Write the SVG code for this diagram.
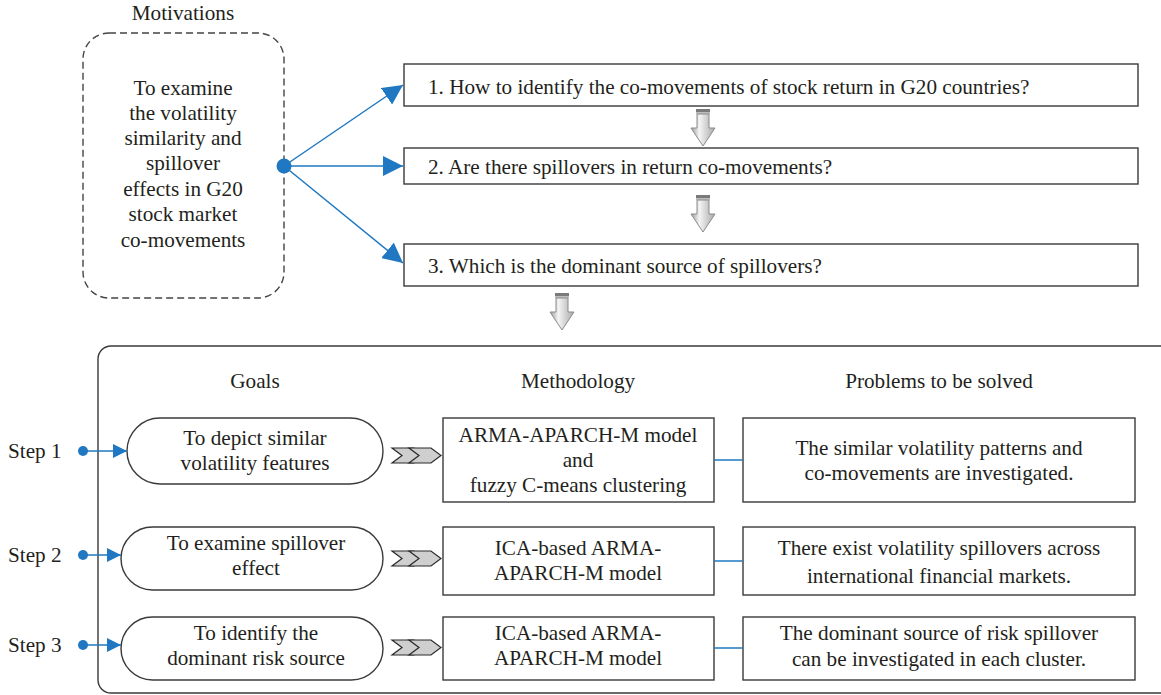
<svg xmlns="http://www.w3.org/2000/svg" width="1161" height="695" viewBox="0 0 1161 695">
<style>
text{font-family:"Liberation Serif","DejaVu Serif",serif;font-size:21.2px;fill:#231f20}
.c{text-anchor:middle}
.box{fill:#fff;stroke:#3a3a3a;stroke-width:1.4}
.blue{stroke:#1f78c1;stroke-width:1.5;fill:none}
.dot{fill:#1f78c1}
.chev{fill:#cfcfcf;stroke:#2a2a2a;stroke-width:1.2;stroke-linejoin:miter}
</style>
<defs>
<marker id="ah" viewBox="0 0 20 20" refX="20" refY="10" markerWidth="20" markerHeight="20" markerUnits="userSpaceOnUse" orient="auto">
<path d="M0,0 L20,10 L0,20 Z" fill="#1f78c1"/>
</marker>
<marker id="ahs" viewBox="0 0 14 14" refX="14" refY="7" markerWidth="14" markerHeight="14" markerUnits="userSpaceOnUse" orient="auto">
<path d="M0,0 L14,7 L0,14 Z" fill="#1f78c1"/>
</marker>
<linearGradient id="gshaft" x1="0" y1="0" x2="1" y2="0">
<stop offset="0" stop-color="#9a9a9a"/>
<stop offset="0.35" stop-color="#f4f4f4"/>
<stop offset="1" stop-color="#a8a8a8"/>
</linearGradient>
<g id="darrow">
<rect x="-7" y="0" width="14" height="3" fill="#7a7a7a"/>
<rect x="-7" y="3" width="14" height="2" fill="#bdbdbd"/>
<path d="M-6,5 L6,5 L6,19 L12,19 L0,37 L-12,19 L-6,19 Z" fill="url(#gshaft)" stroke="#8a8a8a" stroke-width="1"/>
</g>
<path id="chev" d="M0,0 L22,0 L32,7.5 L22,15 L0,15 L10,7.5 Z"/>
</defs>

<g id="motivation">
<text class="c" x="183" y="20">Motivations</text>
<rect x="83" y="33" width="201" height="265" rx="26" ry="26" fill="none" stroke="#444" stroke-width="1.4" stroke-dasharray="7,4"/>
<text class="c" x="183" y="95">To examine</text>
<text class="c" x="183" y="120">the volatility</text>
<text class="c" x="183" y="145">similarity and</text>
<text class="c" x="183" y="170">spillover</text>
<text class="c" x="183" y="196">effects in G20</text>
<text class="c" x="183" y="221">stock market</text>
<text class="c" x="183" y="247">co-movements</text>
</g>

<g id="q1">
<rect class="box" x="404" y="64" width="734" height="42"/>
<text x="428" y="94">1. How to identify the co-movements of stock return in G20 countries?</text>
</g>
<g id="q2">
<rect class="box" x="404" y="148" width="734" height="36"/>
<text x="428" y="174">2. Are there spillovers in return co-movements?</text>
</g>
<g id="q3">
<rect class="box" x="404" y="244" width="734" height="42"/>
<text x="428" y="273">3. Which is the dominant source of spillovers?</text>
</g>

<g id="frame">
<rect x="98" y="346" width="1080" height="347" rx="13" ry="13" fill="none" stroke="#3a3a3a" stroke-width="1.4"/>
<text class="c" x="255" y="388">Goals</text>
<text class="c" x="578" y="388">Methodology</text>
<text class="c" x="939" y="388">Problems to be solved</text>
</g>

<g id="step1">
<text x="8" y="458">Step 1</text>
</g>
<g id="step2">
<text x="8" y="562">Step 2</text>
</g>
<g id="step3">
<text x="8" y="652">Step 3</text>
</g>

<g id="goal1">
<rect class="box" x="127" y="418" width="256" height="66" rx="33" ry="33"/>
<text class="c" x="255" y="445">To depict similar</text>
<text class="c" x="255" y="470">volatility features</text>
</g>
<g id="goal2">
<rect class="box" x="121" y="527" width="262" height="63" rx="31.5" ry="31.5"/>
<text class="c" x="256" y="550">To examine spillover</text>
<text class="c" x="256" y="575">effect</text>
</g>
<g id="goal3">
<rect class="box" x="121" y="617" width="262" height="63" rx="31.5" ry="31.5"/>
<text class="c" x="256" y="640">To identify the</text>
<text class="c" x="256" y="665">dominant risk source</text>
</g>

<g id="method1">
<rect class="box" x="443" y="418" width="271" height="84"/>
<text class="c" x="578" y="442">ARMA-APARCH-M model</text>
<text class="c" x="578" y="467">and</text>
<text class="c" x="578" y="492">fuzzy C-means clustering</text>
</g>
<g id="method2">
<rect class="box" x="443" y="527" width="271" height="68"/>
<text class="c" x="578" y="555">ICA-based ARMA-</text>
<text class="c" x="578" y="580">APARCH-M model</text>
</g>
<g id="method3">
<rect class="box" x="443" y="617" width="271" height="63"/>
<text class="c" x="578" y="640">ICA-based ARMA-</text>
<text class="c" x="578" y="665">APARCH-M model</text>
</g>

<g id="problem1">
<rect class="box" x="743" y="418" width="392" height="84"/>
<text class="c" x="939" y="455">The similar volatility patterns and</text>
<text class="c" x="939" y="480">co-movements are investigated.</text>
</g>
<g id="problem2">
<rect class="box" x="743" y="527" width="392" height="68"/>
<text class="c" x="939" y="555">There exist volatility spillovers across</text>
<text class="c" x="939" y="583">international financial markets.</text>
</g>
<g id="problem3">
<rect class="box" x="743" y="617" width="392" height="63"/>
<text class="c" x="939" y="640">The dominant source of risk spillover</text>
<text class="c" x="939" y="666">can be investigated in each cluster.</text>
</g>

<g id="connectors">
<line class="blue" x1="284" y1="166" x2="403" y2="85" marker-end="url(#ah)"/>
<line class="blue" x1="284" y1="166" x2="403" y2="166" marker-end="url(#ah)"/>
<line class="blue" x1="284" y1="166" x2="403" y2="263" marker-end="url(#ah)"/>
<circle class="dot" cx="284" cy="166" r="7.5"/>

<use href="#darrow" x="703" y="109"/>
<use href="#darrow" x="703" y="195"/>
<use href="#darrow" x="562" y="293"/>

<line class="blue" x1="83" y1="451" x2="127" y2="451" marker-end="url(#ahs)"/>
<circle class="dot" cx="83" cy="451" r="5"/>
<line class="blue" x1="83" y1="555" x2="121" y2="555" marker-end="url(#ahs)"/>
<circle class="dot" cx="83" cy="555" r="5"/>
<line class="blue" x1="83" y1="645" x2="121" y2="645" marker-end="url(#ahs)"/>
<circle class="dot" cx="83" cy="645" r="5"/>

<use href="#chev" class="chev" x="392" y="448"/>
<use href="#chev" class="chev" x="409" y="448"/>
<use href="#chev" class="chev" x="392" y="551"/>
<use href="#chev" class="chev" x="409" y="551"/>
<use href="#chev" class="chev" x="392" y="640"/>
<use href="#chev" class="chev" x="409" y="640"/>

<line class="blue" x1="714" y1="460" x2="743" y2="460" stroke-width="1.2"/>
<line class="blue" x1="714" y1="561" x2="743" y2="561" stroke-width="1.2"/>
<line class="blue" x1="714" y1="648" x2="743" y2="648" stroke-width="1.2"/>
</g>
</svg>
